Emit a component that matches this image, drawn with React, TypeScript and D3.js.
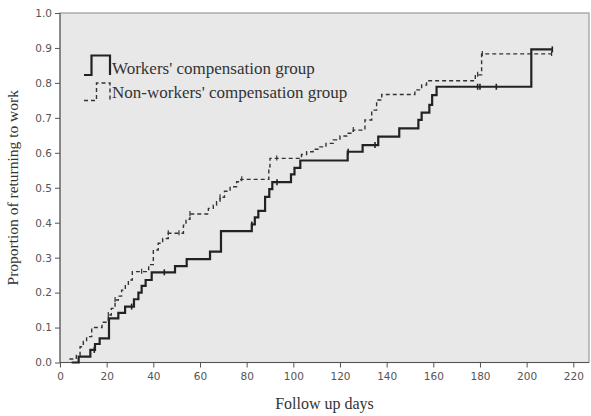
import React, { useEffect, useRef } from 'react';
import * as d3 from 'd3';

// Kaplan-Meier steps (days, proportion returned)
const wcDays = [5, 8, 13, 15, 17, 21, 25, 27.9, 31.7, 33.6, 35, 36.7, 39.3, 49.3, 54.3, 64.3, 69, 82.2, 83.5, 85, 87.9, 89.7, 91, 99, 100.5, 103, 123.3, 129.7, 136.4, 145.4, 153.6, 155, 158.3, 159.5, 161.4, 202, 211];
const wcProp = [0, 0.017, 0.036, 0.053, 0.069, 0.126, 0.142, 0.16, 0.181, 0.2, 0.219, 0.236, 0.258, 0.276, 0.296, 0.317, 0.376, 0.395, 0.415, 0.434, 0.474, 0.496, 0.516, 0.538, 0.557, 0.578, 0.603, 0.622, 0.646, 0.67, 0.694, 0.715, 0.737, 0.765, 0.789, 0.896, 0.896];
const wcCensored = [14.7, 30.7, 44.7, 82.2, 93, 123.5, 135, 179, 180, 187, 211];

const nwDays = [4, 7, 8.6, 10, 11.4, 13.6, 18, 20.7, 22, 23.6, 25, 26.4, 28, 29.3, 31, 38, 40, 42.1, 44, 46.4, 52.9, 54, 55.7, 63.6, 65.7, 67.1, 68.6, 70.5, 72.9, 75.7, 77.5, 89.5, 90, 103.5, 105.7, 108.5, 111.4, 114, 117.1, 120, 122.9, 125.7, 130.7, 133.6, 135.7, 137.9, 152.1, 155, 157.1, 178, 180.7, 210.7];
const nwProp = [0.01, 0.02, 0.045, 0.06, 0.074, 0.1, 0.115, 0.136, 0.155, 0.179, 0.19, 0.207, 0.22, 0.236, 0.26, 0.28, 0.322, 0.341, 0.355, 0.37, 0.393, 0.41, 0.425, 0.441, 0.45, 0.46, 0.473, 0.49, 0.503, 0.517, 0.524, 0.56, 0.584, 0.595, 0.603, 0.61, 0.617, 0.627, 0.637, 0.648, 0.656, 0.665, 0.694, 0.722, 0.751, 0.767, 0.78, 0.794, 0.806, 0.823, 0.883, 0.883];
const nwCensored = [20.7, 23.6, 35, 46.4, 51, 55.7, 68.6, 77.9, 92.9, 125.7, 179, 181, 210.7];

const xTicks = [0, 20, 40, 60, 80, 100, 120, 140, 160, 180, 200, 220];
const yTicks = [0, 0.1, 0.2, 0.3, 0.4, 0.5, 0.6, 0.7, 0.8, 0.9, 1.0];

const W = 591;
const H = 416;
const plot = { left: 60, right: 589, top: 13, bottom: 362.5 };

const x = d3.scaleLinear().domain([0, 220]).range([plot.left, 573.3]);
const y = d3.scaleLinear().domain([0, 1]).range([plot.bottom, plot.top]);

const stepLine = d3
  .line<[number, number]>()
  .x(d => x(d[0]))
  .y(d => y(d[1]))
  .curve(d3.curveStepAfter);

// value of the step curve at time t
const valueAt = (days: number[], prop: number[], t: number) => {
  const i = d3.bisectRight(days, t) - 1;
  return prop[Math.max(0, i)];
};

export default function App() {
  const xAxisRef = useRef<SVGGElement>(null);
  const yAxisRef = useRef<SVGGElement>(null);

  useEffect(() => {
    const xg = d3.select(xAxisRef.current!);
    xg.call(d3.axisBottom(x).tickValues(xTicks).tickSize(5).tickSizeOuter(0).tickFormat(d3.format('d')));
    const yg = d3.select(yAxisRef.current!);
    yg.call(d3.axisLeft(y).tickValues(yTicks).tickSize(5).tickSizeOuter(0).tickFormat(d3.format('.1f')));

    [xg, yg].forEach(g => {
      g.select('.domain').remove();
      g.selectAll('line').attr('stroke', '#555');
      g.selectAll('text')
        .attr('fill', '#555')
        .style('font-family', 'DejaVu Sans, sans-serif')
        .style('font-size', '10.5px');
    });
    xg.selectAll('text').attr('dy', '0.9em');
  }, []);

  const wcData = wcDays.map((d, i) => [d, wcProp[i]] as [number, number]);
  const nwData = nwDays.map((d, i) => [d, nwProp[i]] as [number, number]);

  return (
    <svg width={W} height={H} style={{ position: 'absolute', left: 0, top: 0 }}>
      <rect x={0} y={0} width={W} height={H} fill="#fff" />
      <rect
        x={plot.left}
        y={plot.top}
        width={plot.right - plot.left}
        height={plot.bottom - plot.top}
        fill="#e8e8e8"
        stroke="#999"
        strokeWidth={1.2}
      />
      <line x1={plot.left} x2={plot.left} y1={plot.top} y2={plot.bottom} stroke="#555" />
      <line x1={plot.left} x2={plot.right} y1={plot.bottom} y2={plot.bottom} stroke="#555" />

      <g ref={xAxisRef} transform={`translate(0,${plot.bottom})`} />
      <g ref={yAxisRef} transform={`translate(${plot.left},0)`} />

      {/* non-workers' group, dashed */}
      <path d={stepLine(nwData) || ''} fill="none" stroke="#333" strokeWidth={1.4} strokeDasharray="4,3" />
      {nwCensored.map((t, i) => (
        <line
          key={'nc' + i}
          x1={x(t)}
          x2={x(t)}
          y1={y(valueAt(nwDays, nwProp, t)) - 3}
          y2={y(valueAt(nwDays, nwProp, t)) + 2}
          stroke="#333"
          strokeWidth={1.2}
        />
      ))}

      {/* workers' group, solid */}
      <path d={stepLine(wcData) || ''} fill="none" stroke="#222" strokeWidth={2.2} />
      {wcCensored.map((t, i) => (
        <line
          key={'wc' + i}
          x1={x(t)}
          x2={x(t)}
          y1={y(valueAt(wcDays, wcProp, t)) - 3}
          y2={y(valueAt(wcDays, wcProp, t)) + 3}
          stroke="#222"
          strokeWidth={1.6}
        />
      ))}

      {/* legend */}
      <path d="M84,75 H91.5 V55.5 H110 V75" fill="none" stroke="#222" strokeWidth={2.2} />
      <path d="M84,100.5 H96.5 V83 H110 V100.5" fill="none" stroke="#333" strokeWidth={1.4} strokeDasharray="4,3" />
      <g fontFamily="Liberation Serif, serif" fontSize={17} fill="#333">
        <text x={112} y={74}>Workers' compensation group</text>
        <text x={112} y={97.5}>Non-workers' compensation group</text>
      </g>

      {/* axis titles */}
      <text
        x={(plot.left + plot.right) / 2}
        y={409}
        textAnchor="middle"
        fontFamily="Liberation Serif, serif"
        fontSize={16}
        fill="#333"
      >
        Follow up days
      </text>
      <text
        transform={`translate(18,${(plot.top + plot.bottom) / 2}) rotate(-90)`}
        textAnchor="middle"
        fontFamily="Liberation Serif, serif"
        fontSize={15.5}
        fill="#333"
      >
        Proportion of returning to work
      </text>
    </svg>
  );
}
